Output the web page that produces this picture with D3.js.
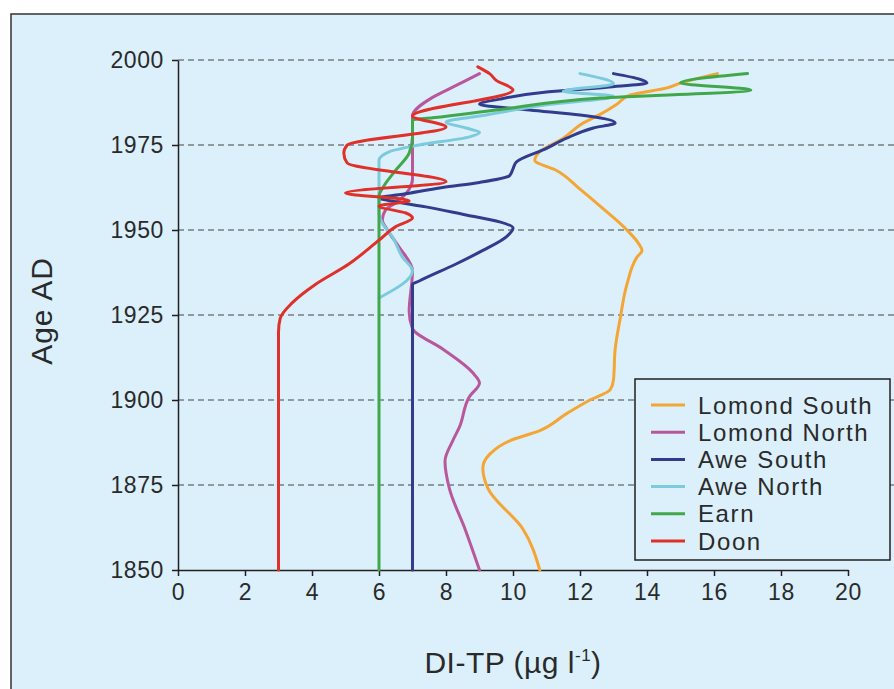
<!DOCTYPE html>
<html>
<head>
<meta charset="utf-8">
<script src="https://cdn.jsdelivr.net/npm/d3@7"></script>
<style>
  body { margin: 0; background: #fff; }
  svg { display: block; font-family: "Liberation Sans", Arial, sans-serif; }
</style>
</head>
<body>
<svg id="chart"></svg>
<script>
// values: [year AD, DI-TP]
const lomondSouth = [
  [1850, 10.8], [1862, 10.3], [1874, 9.25], [1880, 9.1], [1884, 9.3], [1888, 9.9],
  [1891, 10.8], [1896, 11.6], [1900, 12.3], [1903, 12.9], [1906, 13.0], [1915, 13.05],
  [1924, 13.2], [1934, 13.4], [1942, 13.7], [1944, 13.85], [1946, 13.75], [1950, 13.4],
  [1957, 12.6], [1962, 12.0], [1967.5, 11.3], [1970.5, 10.65], [1973, 10.8], [1977, 11.5],
  [1981.5, 12.1], [1984, 12.6], [1987, 13.1], [1989.7, 13.5], [1991.8, 14.6], [1993.2, 15.0],
  [1996, 16.1]
];
const lomondNorth = [
  [1850, 9.0], [1862, 8.57], [1874, 8.1], [1882, 7.97], [1888, 8.2], [1892, 8.4],
  [1901, 8.7], [1905, 9.0], [1908, 8.8], [1915, 7.9], [1921, 7.0], [1926, 6.9],
  [1938, 7.0], [1945, 6.6], [1950, 6.25], [1953, 6.1], [1956, 6.2], [1958, 6.5],
  [1962, 6.9], [1965, 7.0], [1983.5, 7.0], [1989, 7.6], [1992, 8.2], [1996, 9.0]
];
const aweSouth = [
  [1850, 7.0], [1934, 7.0], [1935, 7.2], [1940, 8.3], [1944, 9.1], [1948, 9.8],
  [1950.6, 10.0], [1952.4, 9.6], [1954.4, 8.6], [1956.8, 7.4], [1958.3, 6.5], [1959.4, 6.0],
  [1960.5, 6.7], [1962.5, 7.9], [1964, 9.0], [1966, 9.9], [1968, 10.0], [1970, 10.1],
  [1974, 11.0], [1977, 11.6], [1980, 12.4], [1981.5, 13.05], [1983.8, 12.0], [1985.3, 10.5],
  [1987, 9.0], [1988.5, 9.6], [1990.6, 11.0], [1992, 12.8], [1993.2, 14.0], [1994.3, 13.8],
  [1996, 13.0]
];
const aweNorth = [
  [1930, 6.0], [1938, 7.0], [1942, 6.7], [1948, 6.4], [1952, 6.1], [1955, 6.0],
  [1970.5, 6.0], [1973, 6.3], [1975, 7.2], [1977.4, 8.7], [1978.7, 9.0], [1980, 8.6],
  [1981.8, 8.0], [1983.5, 9.0], [1986.8, 11.0], [1989.3, 13.0], [1990.8, 11.5], [1993, 13.0],
  [1996, 12.0]
];
const earn = [
  [1850, 6.0], [1960, 6.0], [1963, 6.15], [1967.6, 6.5], [1972.6, 6.9], [1977.4, 7.0],
  [1982.4, 7.0], [1983, 7.6], [1985.3, 9.5], [1988.8, 12.6], [1991.2, 17.1], [1993.2, 15.0],
  [1996, 17.0]
];
const doon = [
  [1850, 3.0], [1920, 3.0], [1924, 3.05], [1928.5, 3.4], [1934, 4.1], [1940, 5.1],
  [1947, 6.0], [1951, 6.5], [1953.5, 7.0], [1955, 6.8], [1957, 6.0], [1958.6, 6.9],
  [1960.9, 5.0], [1964.2, 8.0], [1969.7, 5.05], [1972.6, 4.95], [1975, 5.05], [1980.3, 8.0],
  [1983.5, 7.0], [1991.2, 10.0], [1994, 9.5], [1996, 9.3], [1998, 8.95]
];

const seriesNames = ["Lomond South", "Lomond North", "Awe South", "Awe North", "Earn", "Doon"];
const seriesData = [lomondSouth, lomondNorth, aweSouth, aweNorth, earn, doon];
const seriesColors = ["#f4a534", "#b9579d", "#313c8e", "#7ccbdc", "#40a84b", "#e0302a"];

const xTicks = [0, 2, 4, 6, 8, 10, 12, 14, 16, 18, 20];
const yTicks = [1850, 1875, 1900, 1925, 1950, 1975, 2000];

const width = 894;
const height = 689;
const bg = "#dbf0fb";
const ink = "#231f20";

const svg = d3.select("#chart")
    .attr("width", width)
    .attr("height", height);

// panel
svg.append("rect")
    .attr("x", 11).attr("y", 14)
    .attr("width", 1000).attr("height", 1000)
    .attr("fill", bg)
    .attr("stroke", "#333")
    .attr("stroke-width", 1.5);

const x = d3.scaleLinear().domain([0, 20]).range([178, 848]);
const y = d3.scaleLinear().domain([1850, 2000]).range([570, 60]);

// dashed gridlines
svg.append("g")
    .selectAll("line")
    .data(yTicks.filter(d => d > 1850))
    .join("line")
    .attr("x1", x(0)).attr("x2", width)
    .attr("y1", d => y(d)).attr("y2", d => y(d))
    .attr("stroke", "#444")
    .attr("stroke-width", 1.2)
    .attr("stroke-dasharray", "6,4");

// axes
const yAxis = svg.append("g")
    .attr("transform", `translate(${x(0)},0)`)
    .call(d3.axisLeft(y).tickValues(yTicks).tickSize(6).tickSizeOuter(0).tickPadding(8).tickFormat(d3.format("d")));

const xAxis = svg.append("g")
    .attr("transform", `translate(0,${y(1850)})`)
    .call(d3.axisBottom(x).tickValues(xTicks).tickSize(6).tickSizeOuter(0).tickPadding(8));

[xAxis, yAxis].forEach(g => {
    g.select(".domain").attr("stroke", ink).attr("stroke-width", 1.5);
    g.selectAll(".tick line").attr("stroke", ink).attr("stroke-width", 1.5);
    g.selectAll(".tick text")
        .attr("fill", "#2a2a2a")
        .style("font-size", "23px")
        .style("letter-spacing", "0.6px");
});

// series lines
const line = d3.line()
    .x(d => x(d[1]))
    .y(d => y(d[0]))
    .curve(d3.curveMonotoneY);

svg.append("g")
    .selectAll("path")
    .data(seriesData)
    .join("path")
    .attr("d", d => line(d.slice().sort((a, b) => b[0] - a[0])))
    .attr("fill", "none")
    .attr("stroke", (d, i) => seriesColors[i])
    .attr("stroke-width", 3)
    .attr("stroke-linejoin", "round")
    .attr("stroke-linecap", "round");

// axis titles
svg.append("text")
    .attr("transform", "translate(52,311) rotate(-90)")
    .attr("text-anchor", "middle")
    .attr("fill", "#2a2a2a")
    .style("font-size", "30px")
    .style("letter-spacing", "1px")
    .text("Age AD");

const xTitle = svg.append("text")
    .attr("x", 513)
    .attr("y", 673)
    .attr("text-anchor", "middle")
    .attr("fill", "#2a2a2a")
    .style("font-size", "30px")
    .style("letter-spacing", "0.5px");
xTitle.append("tspan").text("DI-TP (µg l");
xTitle.append("tspan").attr("dy", -12).style("font-size", "17px").text("-1");
xTitle.append("tspan").attr("dy", 12).text(")");

// legend
const legend = svg.append("g");
legend.append("rect")
    .attr("x", 635).attr("y", 379)
    .attr("width", 255).attr("height", 181)
    .attr("fill", bg)
    .attr("stroke", ink)
    .attr("stroke-width", 1.5);

const rows = legend.selectAll("g.row")
    .data(seriesNames)
    .join("g")
    .attr("class", "row")
    .attr("transform", (d, i) => `translate(651,${405 + i * 27.2})`);

rows.append("line")
    .attr("x1", 0).attr("x2", 34)
    .attr("stroke", (d, i) => seriesColors[i])
    .attr("stroke-width", 3);

rows.append("text")
    .attr("x", 47)
    .attr("dy", "0.36em")
    .attr("fill", "#2a2a2a")
    .style("font-size", "24px")
    .style("letter-spacing", "1.6px")
    .text(d => d);
</script>
</body>
</html>
